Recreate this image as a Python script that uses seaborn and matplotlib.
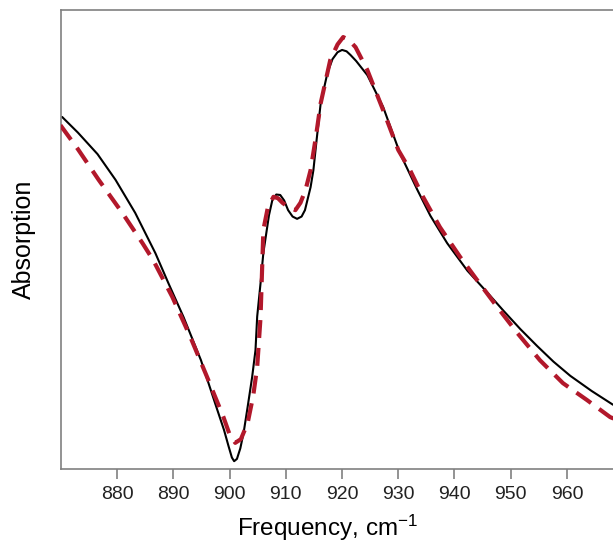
import numpy as np
import pandas as pd
import matplotlib
matplotlib.use("Agg")
import matplotlib.pyplot as plt
import seaborn as sns

# Measured spectrum (black solid)
meas_freq = [870.2, 873.0, 876.5, 879.7, 883.2, 886.8, 889.1, 891.8, 894.9, 897.8,
             899.0, 899.8, 900.4, 900.8, 901.3, 901.9, 902.5, 903.2, 904.0, 904.6,
             904.9, 905.5, 906.0, 907.0, 907.6, 908.3, 909.0, 909.7, 910.4, 911.2,
             912.0, 912.8, 913.4, 914.4, 914.9, 915.5, 916.2, 917.4, 918.3, 919.2,
             920.0, 920.8, 921.5, 922.5, 924.5, 927.3, 930.3, 933.4, 935.7, 938.7,
             942.3, 945.8, 948.7, 951.7, 954.7, 957.6, 960.6, 964.4, 968.2]
meas_abs = [0.767, 0.733, 0.686, 0.630, 0.558, 0.470, 0.405, 0.331, 0.237, 0.129,
            0.085, 0.050, 0.025, 0.017, 0.022, 0.045, 0.080, 0.135, 0.200, 0.259,
            0.332, 0.405, 0.471, 0.553, 0.586, 0.598, 0.597, 0.585, 0.564, 0.550,
            0.545, 0.550, 0.564, 0.614, 0.651, 0.720, 0.797, 0.863, 0.893, 0.908,
            0.913, 0.910, 0.902, 0.889, 0.858, 0.789, 0.688, 0.608, 0.552, 0.492,
            0.432, 0.385, 0.345, 0.305, 0.268, 0.234, 0.203, 0.170, 0.140]

# Fitted spectrum (red dashed)
fit_freq = [869.9, 873.0, 876.7, 880.9, 884.5, 886.4, 889.8, 893.0, 896.0, 898.9,
            900.0, 901.0, 902.0, 903.2, 904.2, 904.9, 905.5, 906.0, 906.8, 907.8,
            908.6, 909.4, 910.5, 911.7, 912.6, 913.5, 914.4, 915.3, 916.2, 917.9,
            919.2, 920.2, 921.2, 922.4, 924.5, 927.3, 930.0, 932.1, 934.4, 937.4,
            941.0, 944.0, 947.6, 951.2, 955.2, 959.3, 963.6, 967.7, 968.3]
fit_abs = [0.749, 0.697, 0.630, 0.558, 0.492, 0.455, 0.375, 0.288, 0.200, 0.113,
           0.075, 0.057, 0.065, 0.100, 0.160, 0.222, 0.331, 0.521, 0.570, 0.593,
           0.590, 0.580, 0.570, 0.564, 0.580, 0.608, 0.651, 0.720, 0.797, 0.891,
           0.925, 0.941, 0.935, 0.919, 0.869, 0.782, 0.695, 0.651, 0.593, 0.527,
           0.462, 0.412, 0.353, 0.296, 0.237, 0.187, 0.150, 0.113, 0.110]

xticks = [880, 890, 900, 910, 920, 930, 940, 950, 960]
x_label = "Frequency, cm$^{-1}$"
y_label = "Absorption"

sns.set_theme(style="white")
plt.rcParams['font.family'] = ['Liberation Sans', 'DejaVu Sans']
plt.rcParams['mathtext.fontset'] = 'custom'
plt.rcParams['mathtext.rm'] = 'Liberation Sans'
plt.rcParams['mathtext.it'] = 'Liberation Sans'

fig = plt.figure(figsize=(6.13, 5.42), dpi=100)
ax = fig.add_axes([61 / 613, 1 - 469 / 542, 1 - 61 / 613, (469 - 10) / 542])

df_meas = pd.DataFrame({"freq": meas_freq, "abs": meas_abs})
df_fit = pd.DataFrame({"freq": fit_freq, "abs": fit_abs})

sns.lineplot(data=df_meas, x="freq", y="abs", ax=ax, color="black", lw=1.5,
             sort=False, estimator=None, zorder=2)
sns.lineplot(data=df_fit, x="freq", y="abs", ax=ax, color="#B2182B", lw=3.0,
             sort=False, estimator=None, zorder=3, dashes=False)
ax.lines[-1].set_dashes((4.3, 2.4))
for ln in ax.lines:
    ln.set_solid_joinstyle("round")

ax.set_xlim(870, 968.2)
ax.set_ylim(0, 1)
ax.set_xticks(xticks)
ax.set_xticklabels([str(t) for t in xticks])
ax.set_yticks([])

for side in ["left", "top", "bottom"]:
    ax.spines[side].set_visible(True)
    ax.spines[side].set_color("#808080")
    ax.spines[side].set_linewidth(1.2)
ax.spines["right"].set_visible(False)

ax.tick_params(axis="x", direction="out", length=7, width=1.2, color="#808080",
               labelsize=14, pad=5, labelcolor="#222222", bottom=True)

ax.set_xlabel(x_label, fontsize=17.5, color="black")
ax.xaxis.label.set_va("baseline")
ax.xaxis.set_label_coords((328 - 61) / (613 - 61), (469 - 536) / 459)
ax.set_ylabel(y_label, fontsize=18, color="black")
ax.yaxis.label.set_va("center")
ax.yaxis.set_label_coords(-(61 - 24) / (613 - 61), 0.5)

fig.savefig("out.png", dpi=100)
